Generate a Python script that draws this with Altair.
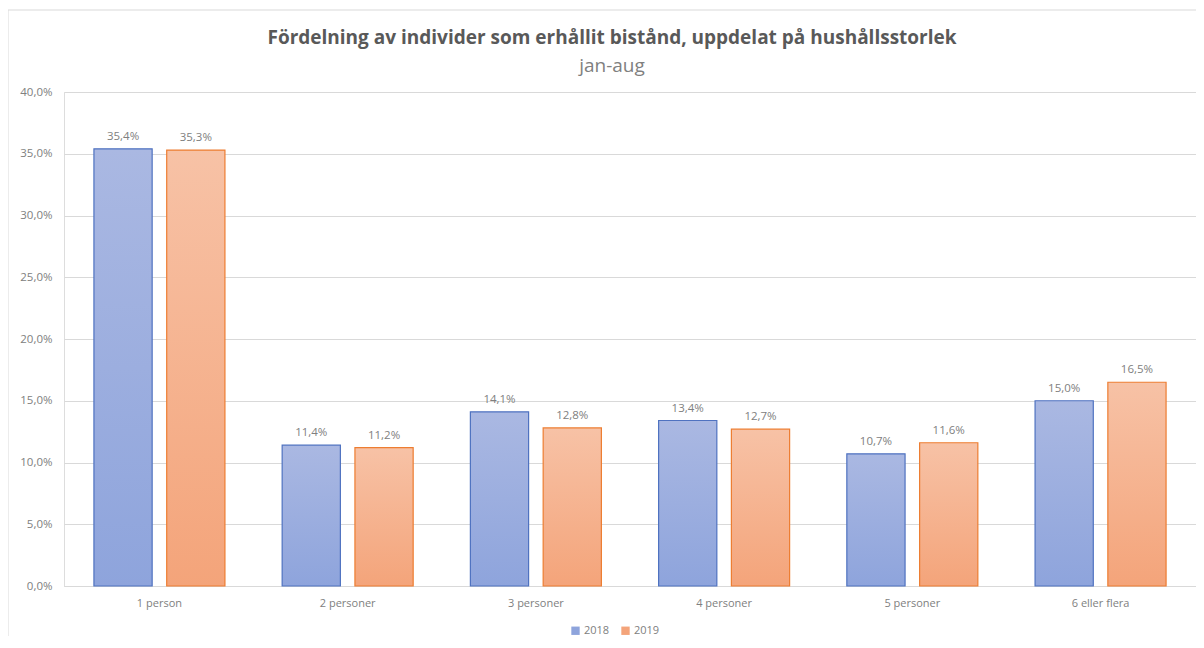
import altair as alt
import pandas as pd

title_text = "Fördelning av individer som erhållit bistånd, uppdelat på hushållsstorlek"
subtitle_text = "jan-aug"
categories = ["1 person", "2  personer", "3 personer", "4 personer", "5 personer", "6 eller flera"]
years = ["2018", "2019"]
values_2018 = [35.4, 11.4, 14.1, 13.4, 10.7, 15.0]
values_2019 = [35.3, 11.2, 12.8, 12.7, 11.6, 16.5]

rows = []
for c, v in zip(categories, values_2018):
    rows.append({"kategori": c, "år": "2018", "andel": v / 100})
for c, v in zip(categories, values_2019):
    rows.append({"kategori": c, "år": "2019", "andel": v / 100})
df = pd.DataFrame(rows)

FONT = "Open Sans"
GRAY = "#808080"
W, H = 1132, 494

blue_grad = alt.Gradient(gradient="linear", x1=0, y1=0, x2=0, y2=1,
                         stops=[alt.GradientStop(color="#aab8e2", offset=0),
                                alt.GradientStop(color="#8ea4dc", offset=1)])
orange_grad = alt.Gradient(gradient="linear", x1=0, y1=0, x2=0, y2=1,
                           stops=[alt.GradientStop(color="#f7c2a6", offset=0),
                                  alt.GradientStop(color="#f4a47a", offset=1)])

x_enc = alt.X("kategori:N", sort=categories, title=None,
              scale=alt.Scale(paddingInner=0.304, paddingOuter=0.159),
              axis=alt.Axis(labelAngle=0, ticks=False, domainColor="#d9d9d9",
                            labelPadding=11, labelColor=GRAY, labelFontSize=11,
                            labelFont=FONT))
y_enc = alt.Y("andel:Q", title=None,
              scale=alt.Scale(domain=[0, 0.40], nice=False),
              axis=alt.Axis(values=[0, 0.05, 0.10, 0.15, 0.20, 0.25, 0.30, 0.35, 0.40],
                            labelExpr="replace(format(datum.value, '.1%'), '.', ',')",
                            domain=False, ticks=False, gridColor="#d9d9d9",
                            labelPadding=12, labelColor=GRAY, labelFontSize=11.5,
                            labelFont=FONT))
xoff = alt.XOffset("år:N", sort=years, scale=alt.Scale(domain=years, paddingInner=0.2))

base = alt.Chart(df)
one = alt.Chart(pd.DataFrame({"rad": [0]}))

frame = one.mark_rect(
    fillOpacity=0, stroke="#d9d9d9", strokeWidth=1
).encode(x=alt.value(-56), x2=alt.value(W + 20), y=alt.value(-82), y2=alt.value(H + 80))

title_mark = one.mark_text(
    font=FONT, fontSize=19, fontWeight="bold", color="#595959", baseline="middle", align="center"
).encode(x=alt.value(548), y=alt.value(-54), text=alt.value(title_text))

subtitle_mark = one.mark_text(
    font=FONT, fontSize=19, color=GRAY, baseline="middle", align="center"
).encode(x=alt.value(548), y=alt.value(-26), text=alt.value(subtitle_text))

bars18 = base.transform_filter("datum['år'] == '2018'").mark_bar(
    fill=blue_grad, stroke="#4f72c0", strokeWidth=1.2
).encode(x=x_enc, y=y_enc, xOffset=xoff)

bars19 = base.transform_filter("datum['år'] == '2019'").mark_bar(
    fill=orange_grad, stroke="#ed7d31", strokeWidth=1.2
).encode(x=x_enc, y=y_enc, xOffset=xoff)

labels = base.transform_calculate(
    etikett="replace(format(datum.andel, '.1%'), '.', ',')"
).mark_text(dy=-7, fontSize=11.5, color=GRAY, font=FONT, baseline="bottom").encode(
    x=x_enc, y=y_enc, xOffset=xoff, text="etikett:N"
)

legend_layer = base.transform_filter("false").mark_square(filled=True, opacity=1).encode(
    color=alt.Color("år:N", scale=alt.Scale(domain=years, range=["#8ea4dc", "#f4a47a"]),
                    legend=alt.Legend(title=None, orient="none", direction="horizontal",
                                      legendX=506, legendY=533, symbolType="square",
                                      symbolSize=70, symbolStrokeColor=None,
                                      labelFontSize=11, labelColor=GRAY, labelFont=FONT,
                                      columnPadding=10, labelOffset=3))
)

chart = alt.layer(frame, title_mark, subtitle_mark, bars18, bars19, labels, legend_layer).properties(
    width=W, height=H,
    padding={"left": 56, "top": 84, "right": 0, "bottom": 50},
    autosize=alt.AutoSizeParams(type="none"),
).configure_view(strokeWidth=0).configure(background="white")

chart.save("out.html", embed_options={"renderer": "svg", "actions": False})
